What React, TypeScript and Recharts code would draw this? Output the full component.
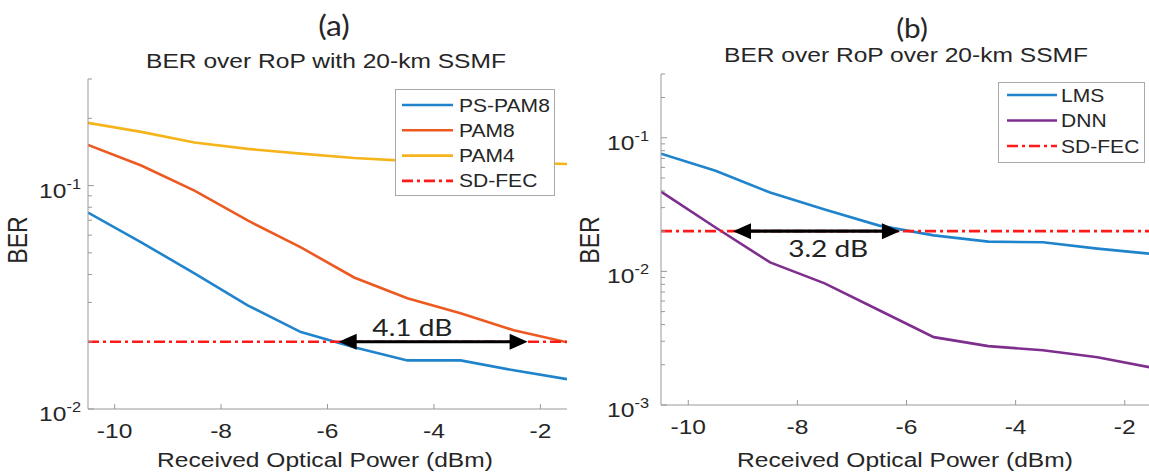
import React from 'react';
import { LineChart, Line, XAxis, YAxis, ReferenceLine, Legend } from 'recharts';

// ---------- data ----------
const ROP = [-10.5, -9.5, -8.5, -7.5, -6.5, -5.5, -4.5, -3.5, -2.5, -1.5];
const PS_PAM8 = [0.0757, 0.0557, 0.0405, 0.0291, 0.0221, 0.0189, 0.0165, 0.0165, 0.0149, 0.0136];
const PAM8 = [0.152, 0.123, 0.095, 0.0698, 0.0529, 0.0388, 0.0313, 0.0268, 0.0225, 0.0199];
const PAM4 = [0.191, 0.174, 0.156, 0.146, 0.139, 0.133, 0.129, 0.128, 0.127, 0.125];
const LMS = [0.076, 0.0567, 0.0389, 0.029, 0.022, 0.0186, 0.0167, 0.0165, 0.0148, 0.0135];
const DNN = [0.0395, 0.0213, 0.01167, 0.00813, 0.00512, 0.00322, 0.00276, 0.00257, 0.00228, 0.0019];
const SD_FEC = 0.02;
const X_TICKS = [-10, -8, -6, -4, -2];
const Y_TICKS_A = [0.01, 0.02, 0.03, 0.04, 0.05, 0.06, 0.07, 0.08, 0.09, 0.1, 0.2, 0.3];
const Y_TICKS_B = [0.001, 0.002, 0.003, 0.004, 0.005, 0.006, 0.007, 0.008, 0.009, 0.01, 0.02, 0.03, 0.04, 0.05, 0.06, 0.07, 0.08, 0.09, 0.1, 0.2, 0.3];
const Y_MAJORS = [0.001, 0.01, 0.1];
const GAP_A = { from: -5.79, to: -2.24, label: '4.1 dB' };
const GAP_B = { from: -9.18, to: -6.12, label: '3.2 dB' };

// ---------- styles ----------
const FONT = '"Liberation Sans", Arial, Helvetica, sans-serif';
const CAL = 'Lato, "Open Sans", sans-serif';
const AXIS = '#999999';
const TXT = '#262626';
const SX = 1.17;
const C_BLUE = '#1f84cc';
const C_ORANGE = '#ec5a22';
const C_YELLOW = '#f6b41c';
const C_PURPLE = '#7e2f8e';
const C_FEC = '#ff1a1a';
const FEC_DASH = '11 4 3 4';
const LW = 2.6;

function SText({ x, y, size, anchor = 'middle', rotate = 0, family = FONT, sx = SX, color = TXT, children }: any) {
  const t = rotate
    ? `translate(${x},${y}) rotate(${rotate}) scale(1,${sx})`
    : `translate(${x},${y}) scale(${sx},1)`;
  return (
    <text transform={t} x={0} y={0} fontSize={size} fontFamily={family} fill={color} textAnchor={anchor}>
      {children}
    </text>
  );
}

const XTick = (props: any) => {
  const { x, y, payload, top } = props;
  if (top) return <line x1={x} x2={x} y1={y} y2={y + 5} stroke={AXIS} />;
  return (
    <g>
      <line x1={x} x2={x} y1={y} y2={y - 5} stroke={AXIS} />
      <SText x={x} y={y + 29} size={21}>{String(payload.value)}</SText>
    </g>
  );
};

const YTick = (props: any) => {
  const { x, y, payload, right, labelGap } = props;
  const v = payload.value;
  const major = Y_MAJORS.some((m) => Math.abs(m - v) < 1e-9);
  const len = major ? 6 : 4;
  if (right) return <line x1={x} x2={x - len} y1={y} y2={y} stroke={AXIS} />;
  const exp = Math.round(Math.log10(v));
  return (
    <g>
      <line x1={x} x2={x + len} y1={y} y2={y} stroke={AXIS} />
      {major && (
        <text
          transform={`translate(${x - labelGap},${y + 12}) scale(${SX},1)`}
          fontSize={21}
          fontFamily={FONT}
          fill={TXT}
          textAnchor="end"
        >
          10
          <tspan dy={-9} fontSize={14}>{String(exp)}</tspan>
        </text>
      )}
    </g>
  );
};

const GapArrow = (props: any) => {
  const { x1, y1, x2, label, frac, dy } = props;
  const head = 18;
  const hw = 8;
  const lx = x1 + (x2 - x1) * frac;
  return (
    <g>
      <line x1={x1 + head - 2} y1={y1} x2={x2 - head + 2} y2={y1} stroke="#000" strokeWidth={3.2} />
      <polygon points={`${x1},${y1} ${x1 + head},${y1 - hw} ${x1 + head},${y1 + hw}`} fill="#000" />
      <polygon points={`${x2},${y1} ${x2 - head},${y1 - hw} ${x2 - head},${y1 + hw}`} fill="#000" />
      <SText x={lx} y={y1 + dy} size={24} family={CAL} color="#222">{label}</SText>
    </g>
  );
};

const LegendBox = ({ items, width, height, rowTop, rowGap, lineX1, lineX2, textX }: any) => (
  <div style={{ width, height, border: '1px solid #a9a9a9', background: '#fff', boxSizing: 'border-box' }}>
    <svg width={width - 2} height={height - 2} style={{ display: 'block' }}>
      {items.map((it: any, i: number) => {
        const cy = rowTop + i * rowGap;
        return (
          <g key={it.name}>
            <line x1={lineX1} x2={lineX2} y1={cy} y2={cy} stroke={it.color} strokeWidth={LW} strokeDasharray={it.dash} />
            <SText x={textX} y={cy + 6.5} size={18} anchor="start">{it.name}</SText>
          </g>
        );
      })}
    </svg>
  </div>
);

function Panel({ left, width, margin, xHeight, yWidth, yDomain, yTicks, labelGap, series, gap, gapFrac, gapDy, legend }: any) {
  const data = ROP.map((x, i) => {
    const row: any = { x };
    series.forEach((s: any) => (row[s.key] = s.values[i]));
    return row;
  });
  const legendItems = [
    ...series.map((s: any) => ({ name: s.name, color: s.color })),
    { name: 'SD-FEC', color: C_FEC, dash: FEC_DASH },
  ];
  return (
    <div style={{ position: 'absolute', left, top: 0 }}>
      <LineChart width={width} height={475} data={data} margin={margin}>
        <XAxis
          dataKey="x"
          type="number"
          domain={[-10.5, -1.5]}
          ticks={X_TICKS}
          allowDataOverflow
          interval={0}
          tickSize={0}
          tickMargin={0}
          tickLine={false}
          axisLine={{ stroke: AXIS }}
          height={xHeight}
          tick={<XTick />}
        />
        <XAxis
          xAxisId="top"
          orientation="top"
          type="number"
          domain={[-10.5, -1.5]}
          ticks={X_TICKS}
          allowDataOverflow
          interval={0}
          tickSize={0}
          tickMargin={0}
          tickLine={false}
          axisLine={{ stroke: AXIS }}
          height={0}
          tick={<XTick top />}
        />
        <YAxis
          type="number"
          scale="log"
          domain={yDomain}
          ticks={yTicks}
          allowDataOverflow
          interval={0}
          tickSize={0}
          tickMargin={0}
          tickLine={false}
          axisLine={{ stroke: AXIS }}
          width={yWidth}
          tick={<YTick labelGap={labelGap} />}
        />
        <YAxis
          yAxisId="right"
          orientation="right"
          type="number"
          scale="log"
          domain={yDomain}
          ticks={yTicks}
          allowDataOverflow
          interval={0}
          tickSize={0}
          tickMargin={0}
          tickLine={false}
          axisLine={{ stroke: AXIS }}
          width={0}
          tick={<YTick right />}
        />
        {series.map((s: any) => (
          <Line
            key={s.key}
            dataKey={s.key}
            name={s.name}
            type="linear"
            stroke={s.color}
            strokeWidth={LW}
            dot={false}
            isAnimationActive={false}
          />
        ))}
        <ReferenceLine y={SD_FEC} stroke={C_FEC} strokeWidth={LW} strokeDasharray={FEC_DASH} />
        <ReferenceLine
          segment={[{ x: gap.from, y: SD_FEC }, { x: gap.to, y: SD_FEC }]}
          shape={(p: any) => <GapArrow {...p} label={gap.label} frac={gapFrac} dy={gapDy} />}
        />
        <Legend
          layout="horizontal"
          verticalAlign="middle"
          align="center"
          wrapperStyle={{ left: legend.left, top: legend.top, width: legend.width, height: legend.height }}
          content={() => <LegendBox items={legendItems} {...legend} />}
        />
      </LineChart>
    </div>
  );
}

export default function App() {
  const seriesA = [
    { key: 'ps', name: 'PS-PAM8', color: C_BLUE, values: PS_PAM8 },
    { key: 'p8', name: 'PAM8', color: C_ORANGE, values: PAM8 },
    { key: 'p4', name: 'PAM4', color: C_YELLOW, values: PAM4 },
  ];
  const seriesB = [
    { key: 'lms', name: 'LMS', color: C_BLUE, values: LMS },
    { key: 'dnn', name: 'DNN', color: C_PURPLE, values: DNN },
  ];
  return (
    <div style={{ position: 'absolute', left: 0, top: 0, width: 1149, height: 475, overflow: 'hidden', background: '#fff' }}>
      <Panel
        left={0}
        width={580}
        margin={{ top: 79, right: 13, bottom: 0, left: 0 }}
        xHeight={66}
        yWidth={88}
        yDomain={[0.01, 0.3]}
        yTicks={Y_TICKS_A}
        labelGap={7}
        series={seriesA}
        gap={GAP_A}
        gapFrac={0.39}
        gapDy={-6}
        legend={{ left: 395, top: 89, width: 160, height: 107, rowTop: 15, rowGap: 25.3, lineX1: 6, lineX2: 57, textX: 63 }}
      />
      <Panel
        left={580}
        width={580}
        margin={{ top: 74, right: 8, bottom: 0, left: 0 }}
        xHeight={70}
        yWidth={81}
        yDomain={[0.001, 0.3]}
        yTicks={Y_TICKS_B}
        labelGap={12}
        series={seriesB}
        gap={GAP_B}
        gapFrac={0.57}
        gapDy={26}
        legend={{ left: 418, top: 82, width: 147, height: 81, rowTop: 12, rowGap: 25.5, lineX1: 8, lineX2: 58, textX: 62 }}
      />
      <svg width={1149} height={475} style={{ position: 'absolute', left: 0, top: 0, pointerEvents: 'none' }}>
        <SText x={334} y={36} size={29} family={CAL} sx={1.1}>(a)</SText>
        <SText x={912} y={38} size={27} family={CAL} sx={1.1}>(b)</SText>
        <SText x={326} y={68} size={21}>BER over RoP with 20-km SSMF</SText>
        <SText x={906} y={62} size={21}>BER over RoP over 20-km SSMF</SText>
        <SText x={325} y={467} size={21}>Received Optical Power (dBm)</SText>
        <SText x={905} y={467} size={21}>Received Optical Power (dBm)</SText>
        <SText x={27} y={240} size={23} rotate={-90}>BER</SText>
        <SText x={599} y={240} size={23} rotate={-90}>BER</SText>
      </svg>
    </div>
  );
}
